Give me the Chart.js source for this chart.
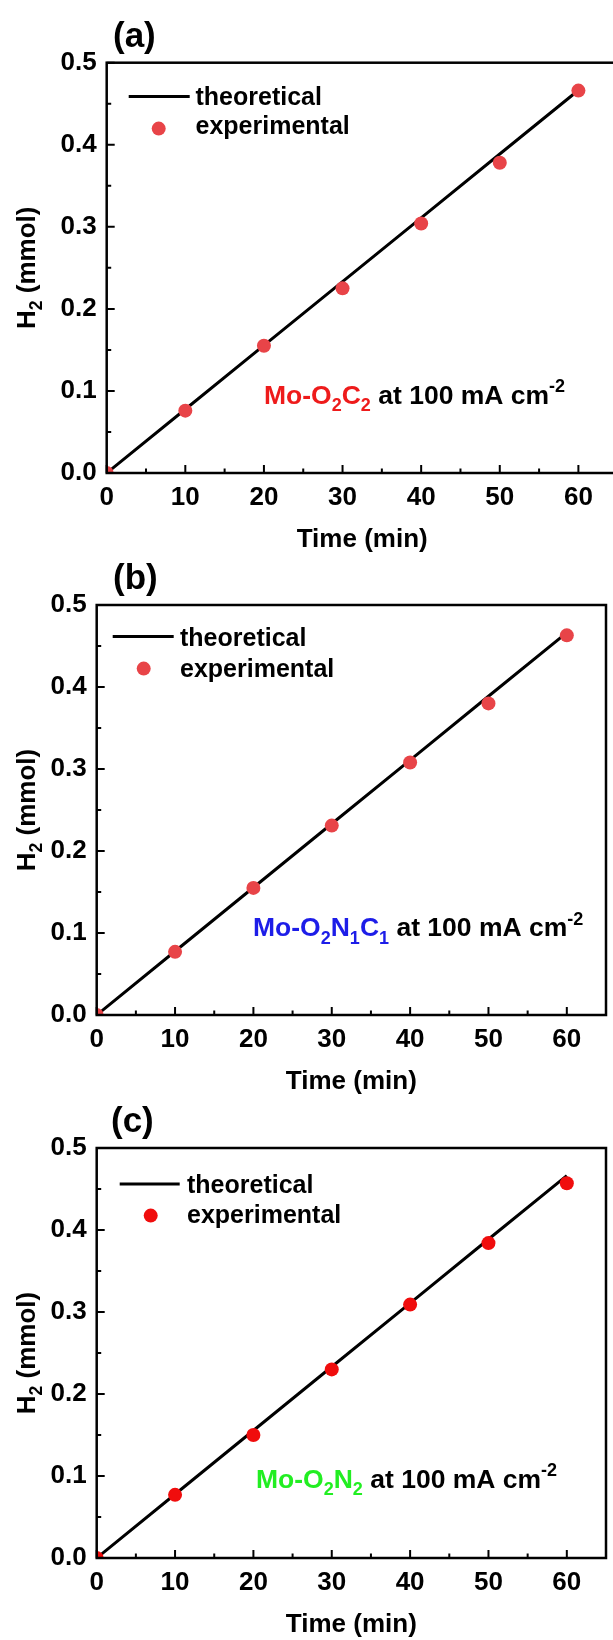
<!DOCTYPE html>
<html>
<head>
<meta charset="utf-8">
<script src="https://cdn.jsdelivr.net/npm/chart.js@4.4.1/dist/chart.umd.min.js"></script>
<style>
  html, body { margin: 0; padding: 0; background: #fff; overflow: hidden; }
  body { width: 613px; height: 1640px; position: relative; }
  canvas { position: absolute; left: 0; display: block; }
</style>
</head>
<body>
<canvas id="panelA"></canvas>
<canvas id="panelB"></canvas>
<canvas id="panelC"></canvas>
<script>
// data
const timeMin = [0, 10, 20, 30, 40, 50, 60];
const theoretical = [0, 0.0777, 0.1555, 0.2332, 0.3109, 0.3887, 0.4664];
const expO2C2 = [0, 0.076, 0.155, 0.225, 0.304, 0.378, 0.466];
const expO2N1C1 = [0, 0.077, 0.155, 0.231, 0.308, 0.380, 0.463];
const expO2N2 = [0, 0.077, 0.150, 0.230, 0.309, 0.384, 0.457];

const xTicks = [0, 10, 20, 30, 40, 50, 60];
const yTicks = [0, 0.1, 0.2, 0.3, 0.4, 0.5];
const xMinor = [5, 15, 25, 35, 45, 55];
const yMinor = [0.05, 0.15, 0.25, 0.35, 0.45];

const FONT = '"Liberation Sans", Arial, Helvetica, sans-serif';

// text made of pieces, some of them sub/superscript
function richWidth(ctx, parts, size) {
  let w = 0;
  parts.forEach(p => {
    const s = (p.sub || p.sup) ? size * 0.68 : size;
    ctx.font = `bold ${s}px ${FONT}`;
    w += ctx.measureText(p.t).width;
  });
  return w;
}
function drawRich(ctx, x, y, parts, size) {
  parts.forEach(p => {
    const s = (p.sub || p.sup) ? size * 0.68 : size;
    ctx.font = `bold ${s}px ${FONT}`;
    ctx.fillStyle = p.c || '#000';
    const dy = p.sub ? size * 0.27 : p.sup ? -size * 0.42 : 0;
    ctx.fillText(p.t, x, y + dy);
    x += ctx.measureText(p.t).width;
  });
}

function makePanel(cfg) {
  const cv = document.getElementById(cfg.id);
  cv.width = cfg.W;
  cv.height = cfg.H;
  cv.style.top = cfg.top + 'px';

  const tickFont = { family: FONT, size: 26, weight: 'bold' };

  const decor = {
    id: 'decor',
    afterDraw(chart) {
      const { ctx, chartArea: a, scales: { x, y } } = chart;
      ctx.save();
      ctx.strokeStyle = '#000';
      ctx.lineWidth = 2.5;
      ctx.strokeRect(a.left, a.top, a.right - a.left, a.bottom - a.top);

      // inward ticks
      ctx.lineWidth = 2;
      ctx.beginPath();
      xTicks.forEach(v => { const px = x.getPixelForValue(v); ctx.moveTo(px, a.bottom); ctx.lineTo(px, a.bottom - 8); });
      xMinor.forEach(v => { const px = x.getPixelForValue(v); ctx.moveTo(px, a.bottom); ctx.lineTo(px, a.bottom - 4.5); });
      yTicks.forEach(v => { const py = y.getPixelForValue(v); ctx.moveTo(a.left, py); ctx.lineTo(a.left + 8, py); });
      yMinor.forEach(v => { const py = y.getPixelForValue(v); ctx.moveTo(a.left, py); ctx.lineTo(a.left + 4.5, py); });
      ctx.stroke();

      // legend
      const lg = cfg.legend;
      ctx.lineWidth = 3;
      ctx.beginPath();
      ctx.moveTo(a.left + lg.lineX0, a.top + lg.lineY);
      ctx.lineTo(a.left + lg.lineX1, a.top + lg.lineY);
      ctx.stroke();
      ctx.fillStyle = cfg.dot;
      ctx.beginPath();
      ctx.arc(a.left + lg.dotX, a.top + lg.dotY, 7, 0, Math.PI * 2);
      ctx.fill();
      ctx.textAlign = 'left';
      ctx.textBaseline = 'alphabetic';
      ctx.fillStyle = '#000';
      ctx.font = `bold 25px ${FONT}`;
      ctx.fillText('theoretical', a.left + lg.textX, a.top + lg.base1);
      ctx.fillText('experimental', a.left + lg.textX, a.top + lg.base2);

      // annotation
      drawRich(ctx, a.left + cfg.note.x, a.top + cfg.note.y, cfg.note.parts, 26.5);

      // x title
      ctx.fillStyle = '#000';
      ctx.font = `bold 26px ${FONT}`;
      ctx.textAlign = 'center';
      ctx.fillText('Time (min)', (a.left + a.right) / 2, a.bottom + 74);

      // y title
      const yParts = [{ t: 'H' }, { t: '2', sub: true }, { t: ' (mmol)' }];
      ctx.textAlign = 'left';
      const w = richWidth(ctx, yParts, 26);
      ctx.save();
      ctx.translate(35, (a.top + a.bottom) / 2);
      ctx.rotate(-Math.PI / 2);
      drawRich(ctx, -w / 2, 0, yParts, 26);
      ctx.restore();

      // panel label
      ctx.fillStyle = '#000';
      ctx.font = `bold 35px ${FONT}`;
      ctx.fillText(cfg.label, cfg.labelX, 46.5);
      ctx.restore();
    }
  };

  return new Chart(cv, {
    type: 'scatter',
    data: {
      datasets: [
        {
          label: 'experimental',
          data: timeMin.map((t, i) => ({ x: t, y: cfg.exp[i] })),
          pointRadius: 7,
          pointBackgroundColor: cfg.dot,
          pointBorderWidth: 0,
          showLine: false,
          clip: 0,
          order: 0
        },
        {
          label: 'theoretical',
          data: timeMin.map((t, i) => ({ x: t, y: theoretical[i] })),
          showLine: true,
          borderColor: '#000',
          borderWidth: 3,
          pointRadius: 0,
          clip: 0,
          order: 1
        }
      ]
    },
    options: {
      responsive: false,
      animation: false,
      layout: { padding: { top: cfg.areaTop, right: cfg.W - cfg.areaRight, bottom: 0, left: 0 } },
      plugins: {
        legend: { display: false },
        tooltip: { enabled: false }
      },
      scales: {
        x: {
          type: 'linear',
          min: 0,
          max: 65,
          grid: { display: false, drawTicks: false },
          border: { display: false },
          ticks: { font: tickFont, color: '#000', padding: 9, maxRotation: 0, autoSkip: false, callback: v => String(v) },
          afterBuildTicks: s => { s.ticks = xTicks.map(v => ({ value: v })); },
          afterFit: s => { s.height = cfg.H - cfg.areaBottom; s.paddingLeft = 0; s.paddingRight = 0; }
        },
        y: {
          type: 'linear',
          min: 0,
          max: 0.5,
          grid: { display: false, drawTicks: false },
          border: { display: false },
          ticks: { font: tickFont, color: '#000', padding: 10, callback: v => v.toFixed(1) },
          afterBuildTicks: s => { s.ticks = yTicks.map(v => ({ value: v })); },
          afterFit: s => { s.width = cfg.areaLeft; s.paddingTop = 0; s.paddingBottom = 0; }
        }
      }
    },
    plugins: [decor]
  });
}

const red = '#ee1b1b';
makePanel({
  id: 'panelA', top: 0, W: 640, H: 560,
  areaLeft: 106.7, areaTop: 62.7, areaRight: 617.7, areaBottom: 473,
  exp: expO2C2, dot: '#e84448', label: '(a)', labelX: 113,
  legend: { lineX0: 22, lineX1: 83, lineY: 33.7, dotX: 52, dotY: 65.9, textX: 88.8, base1: 42.7, base2: 71.2 },
  note: { x: 157.3, y: 340.8, parts: [
    { t: 'Mo-O', c: red }, { t: '2', c: red, sub: true }, { t: 'C', c: red }, { t: '2', c: red, sub: true },
    { t: ' at 100 mA cm' }, { t: '-2', sup: true }] }
});

const blue = '#1d1de8';
makePanel({
  id: 'panelB', top: 542, W: 613, H: 560,
  areaLeft: 96.7, areaTop: 63, areaRight: 607, areaBottom: 473,
  exp: expO2N1C1, dot: '#e84448', label: '(b)', labelX: 113,
  legend: { lineX0: 16, lineX1: 77, lineY: 31.4, dotX: 47, dotY: 63.6, textX: 83.3, base1: 41.4, base2: 71.8 },
  note: { x: 156.3, y: 331.4, parts: [
    { t: 'Mo-O', c: blue }, { t: '2', c: blue, sub: true }, { t: 'N', c: blue }, { t: '1', c: blue, sub: true },
    { t: 'C', c: blue }, { t: '1', c: blue, sub: true },
    { t: ' at 100 mA cm' }, { t: '-2', sup: true }] }
});

const green = '#22ee22';
makePanel({
  id: 'panelC', top: 1085, W: 613, H: 555,
  areaLeft: 96.7, areaTop: 63, areaRight: 608, areaBottom: 473,
  exp: expO2N2, dot: '#f00d0d', label: '(c)', labelX: 111,
  legend: { lineX0: 23, lineX1: 83, lineY: 36, dotX: 54, dotY: 67.6, textX: 90.3, base1: 44.8, base2: 75.3 },
  note: { x: 159.3, y: 339.5, parts: [
    { t: 'Mo-O', c: green }, { t: '2', c: green, sub: true }, { t: 'N', c: green }, { t: '2', c: green, sub: true },
    { t: ' at 100 mA cm' }, { t: '-2', sup: true }] }
});
</script>
</body>
</html>
